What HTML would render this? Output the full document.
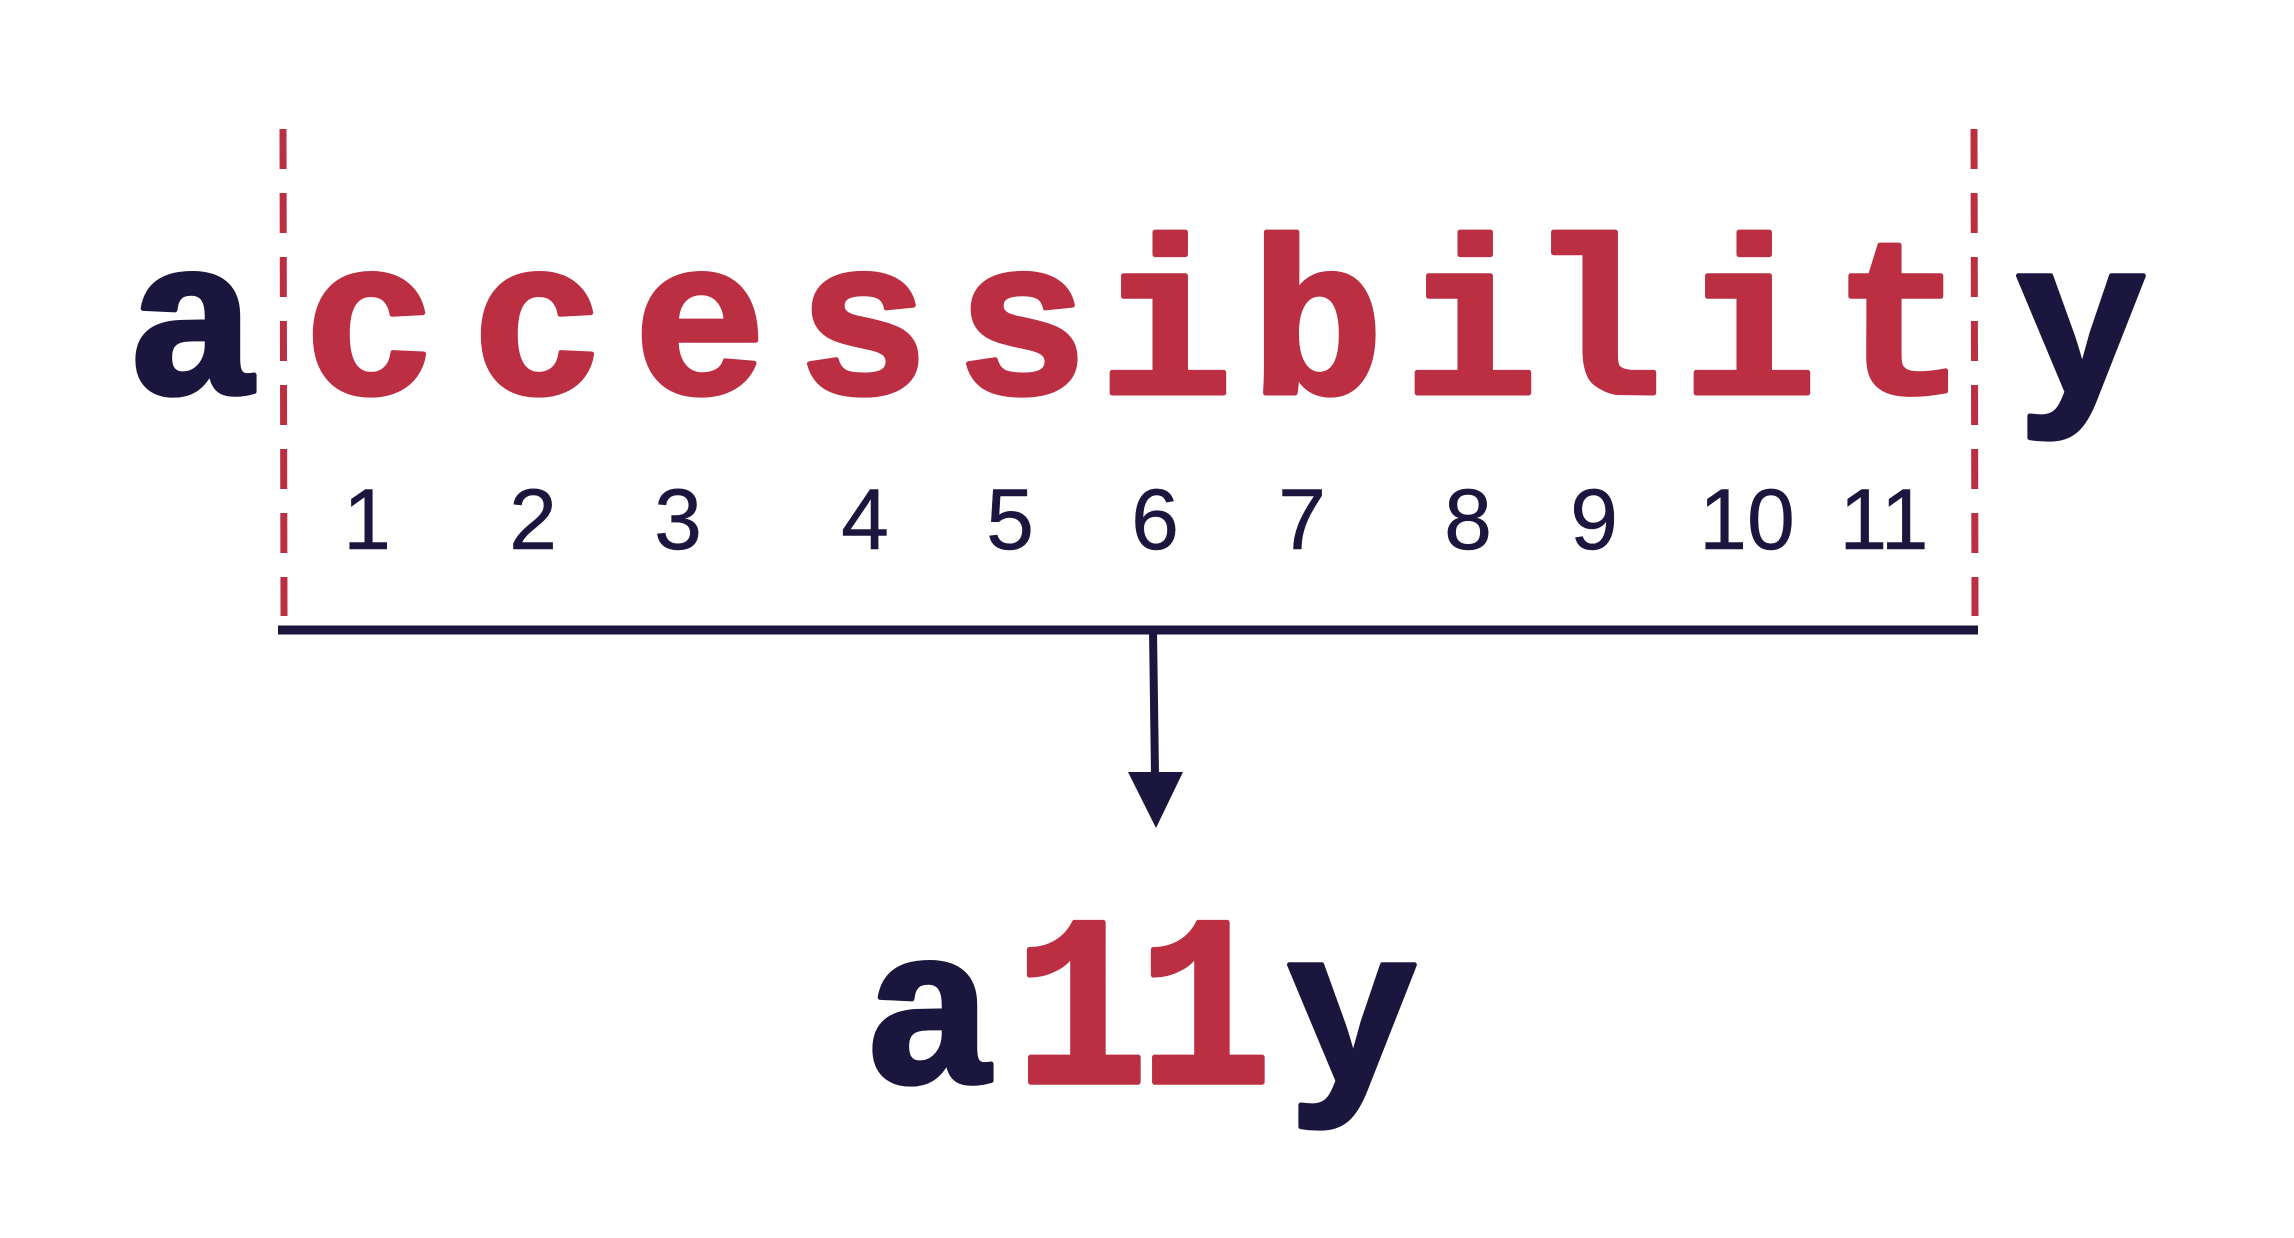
<!DOCTYPE html>
<html><head><meta charset="utf-8"><style>
html,body{margin:0;padding:0;background:#fff;}
svg{display:block;}
.L{font-family:"Liberation Mono",monospace;font-weight:bold;font-size:222px;text-anchor:middle;stroke-width:5;stroke-linejoin:round;}
.r{fill:#bc2e42;stroke:#bc2e42;} .n{fill:#1b163d;stroke:#1b163d;}
.d{font-family:"Liberation Sans",sans-serif;font-size:86px;fill:#1b163d;text-anchor:middle;stroke:#1b163d;stroke-width:0.5;}
</style></head><body>
<svg width="2294" height="1238" viewBox="0 0 2294 1238" xmlns="http://www.w3.org/2000/svg">
<rect width="2294" height="1238" fill="#fff"/>
<line x1="283" y1="129" x2="284" y2="616" stroke="#bc2e42" stroke-width="7" stroke-dasharray="40 24"/>
<line x1="1974" y1="129" x2="1975" y2="616" stroke="#bc2e42" stroke-width="7" stroke-dasharray="40 24"/>
<text class="L n" x="193" y="393">a</text>
<text class="L r" x="370" y="393">c</text>
<text class="L r" x="538" y="393">c</text>
<text class="L r" x="700" y="393">e</text>
<text class="L r" x="863" y="393">s</text>
<text class="L r" x="1022" y="393">s</text>
<text class="L r" x="1166" y="393">i</text>
<text class="L r" x="1317" y="393">b</text>
<text class="L r" x="1471" y="393">i</text>
<text class="L r" x="1596" y="393">l</text>
<text class="L r" x="1750" y="393">i</text>
<text class="L r" x="1900" y="393">t</text>
<text class="L n" x="2081" y="393">y</text>
<text class="d" x="367" y="549">1</text>
<text class="d" x="533" y="549">2</text>
<text class="d" x="678" y="549">3</text>
<text class="d" x="865" y="549">4</text>
<text class="d" x="1010" y="549">5</text>
<text class="d" x="1155" y="549">6</text>
<text class="d" x="1302" y="549">7</text>
<text class="d" x="1468" y="549">8</text>
<text class="d" x="1594" y="549">9</text>
<text class="d" x="1747" y="549">10</text>
<text class="d" x="1884" y="549">11</text>
<line x1="278" y1="630" x2="1978" y2="630" stroke="#1b163d" stroke-width="9"/>
<line x1="1153" y1="630" x2="1155" y2="775" stroke="#1b163d" stroke-width="8"/>
<polygon points="1128,772 1183,772 1156,828" fill="#1b163d"/>
<text class="L n" x="930" y="1082">a</text>
<g transform="translate(0,1082) scale(1,1.09) translate(0,-1082)">
<text class="L r" x="1081" y="1082">1</text>
<text class="L r" x="1205" y="1082">1</text>
</g>
<text class="L n" x="1352" y="1082">y</text>
</svg>
</body></html>
